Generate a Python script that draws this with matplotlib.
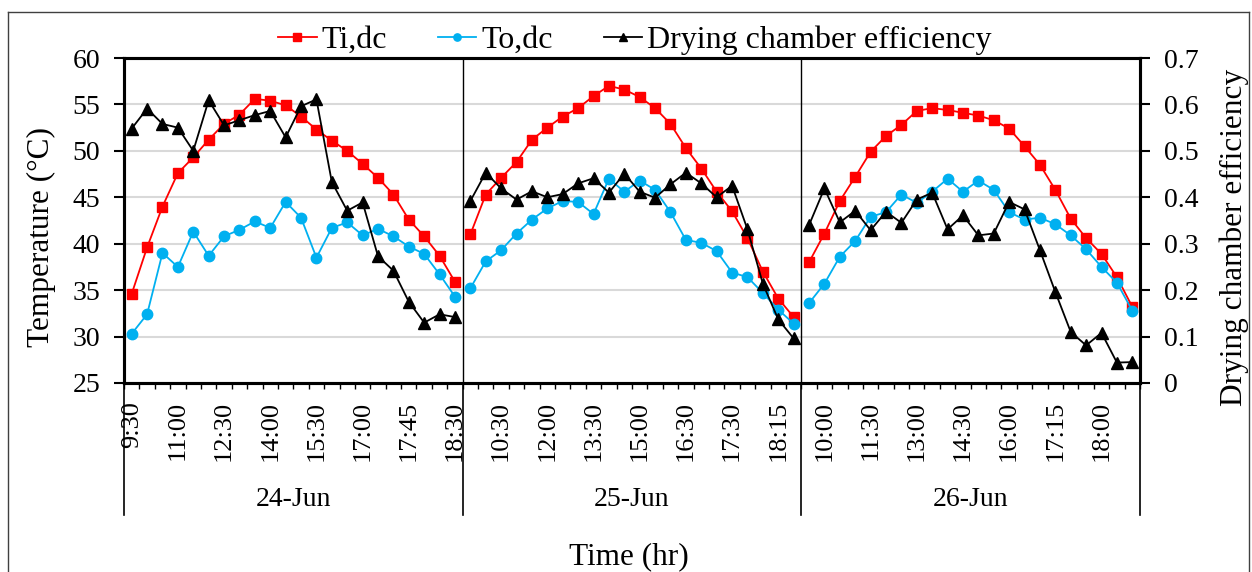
import matplotlib
matplotlib.use("Agg")
import matplotlib.pyplot as plt
import matplotlib.transforms as mtransforms
from matplotlib.lines import Line2D

plt.rcParams['font.family'] = ['Liberation Serif', 'DejaVu Serif']

# readings every 30 min, then every 15 min late afternoon
times = ['9:30', '10:00', '10:30', '11:00', '11:30', '12:00', '12:30', '13:00',
         '13:30', '14:00', '14:30', '15:00', '15:30', '16:00', '16:30', '17:00',
         '17:15', '17:30', '17:45', '18:00', '18:15', '18:30']
days = ['24-Jun', '25-Jun', '26-Jun']

ti_24 = [34.6, 39.6, 44.0, 47.6, 49.3, 51.2, 52.9, 53.9, 55.6, 55.4, 54.9,
         53.7, 52.3, 51.1, 50.0, 48.6, 47.1, 45.3, 42.6, 40.8, 38.7, 35.9]
to_24 = [30.3, 32.4, 39.0, 37.5, 41.3, 38.7, 40.8, 41.5, 42.4, 41.7, 44.5,
         42.8, 38.5, 41.7, 42.3, 40.9, 41.6, 40.8, 39.7, 38.9, 36.7, 34.3]
eff_24 = [0.548, 0.591, 0.558, 0.550, 0.500, 0.609, 0.555, 0.566, 0.577, 0.586, 0.529,
          0.596, 0.611, 0.433, 0.371, 0.389, 0.273, 0.242, 0.175, 0.130, 0.148, 0.142]

ti_25 = [41.0, 45.3, 47.1, 48.8, 51.2, 52.5, 53.7, 54.6, 55.9, 57.0, 56.6,
         55.8, 54.6, 52.9, 50.3, 48.1, 45.6, 43.5, 40.6, 37.0, 34.1, 32.1]
to_25 = [35.2, 38.1, 39.3, 41.1, 42.6, 43.8, 44.6, 44.5, 43.2, 47.0, 45.6,
         46.8, 45.8, 43.4, 40.4, 40.1, 39.2, 36.9, 36.4, 34.7, 32.9, 31.4]
eff_25 = [0.392, 0.453, 0.419, 0.395, 0.413, 0.400, 0.407, 0.430, 0.441, 0.410, 0.451,
          0.412, 0.399, 0.428, 0.453, 0.430, 0.400, 0.425, 0.331, 0.214, 0.137, 0.096]

ti_26 = [38.0, 41.1, 44.6, 47.2, 49.9, 51.6, 52.8, 54.3, 54.6, 54.4, 54.1,
         53.8, 53.3, 52.4, 50.5, 48.5, 45.8, 42.7, 40.6, 38.9, 36.4, 33.2]
to_26 = [33.6, 35.7, 38.6, 40.3, 42.9, 43.4, 45.3, 44.4, 45.6, 47.0, 45.6,
         46.8, 45.8, 43.4, 42.6, 42.8, 42.1, 40.9, 39.4, 37.5, 35.8, 32.8]
eff_26 = [0.340, 0.419, 0.346, 0.371, 0.329, 0.369, 0.345, 0.395, 0.410, 0.331, 0.361,
          0.318, 0.322, 0.390, 0.374, 0.286, 0.196, 0.110, 0.081, 0.108, 0.044, 0.045]

ti = [ti_24, ti_25, ti_26]
to = [to_24, to_25, to_26]
eff = [eff_24, eff_25, eff_26]

n = len(times)
total = n * len(days)

fig = plt.figure(figsize=(12.52, 5.72), dpi=100)
ax = fig.add_axes([124 / 1252, 1 - 383 / 572, (1140 - 124) / 1252, 325 / 572])
ax2 = ax.twinx()
ax2.set_zorder(ax.get_zorder() + 1)
ax.patch.set_visible(False)

red = '#FF0000'
blue = '#00B0F0'

for d in range(len(days)):
    x = list(range(d * n, (d + 1) * n))
    ax.plot(x, ti[d], color=red, lw=1.3, marker='s', ms=7.5,
            label='Ti,dc' if d == 0 else None, zorder=3)
    ax.plot(x, to[d], color=blue, lw=1.3, marker='o', ms=7.5,
            label='To,dc' if d == 0 else None, zorder=4)
    ax2.plot(x, eff[d], color='black', lw=1.3, marker='^', ms=8,
             label='Drying chamber efficiency' if d == 0 else None, zorder=5)

ax.set_xlim(-0.5, total - 0.5)
ax.set_ylim(25, 60)
ax.set_yticks(range(25, 61, 5))
ax2.set_ylim(0, 0.7)
ax2.set_yticks([0, 0.1, 0.2, 0.3, 0.4, 0.5, 0.6, 0.7])
ax2.set_yticklabels(['0', '0.1', '0.2', '0.3', '0.4', '0.5', '0.6', '0.7'])

# category labels every third reading
pos = list(range(0, total, 3))
labels = [times[p % n] for p in pos]
ax.set_xticks(pos)
ax.set_xticklabels(labels, rotation=90, fontsize=19, va='top', ha='center')
ax.set_xticks([b - 0.5 for b in range(total + 1)], minor=True)
ax.tick_params(axis='x', which='major', length=0, pad=13)
ax.tick_params(axis='x', which='minor', length=4, width=1, direction='out')
ax.tick_params(axis='y', labelsize=20, length=7, width=1.5, direction='out', pad=10)
ax2.tick_params(axis='y', labelsize=20, length=7, width=1.5, direction='out', pad=10)
ax2.tick_params(axis='x', which='both', length=0)

ax.grid(axis='y', color='#d9d9d9', lw=1.5, zorder=0)
ax.set_axisbelow(True)

for a in (ax, ax2):
    for s in a.spines.values():
        s.set_linewidth(2.2)
        s.set_color('black')

# day separators, inside the plot and down through the labels
trans = mtransforms.blended_transform_factory(ax.transData, ax.transAxes)
for k in range(1, len(days)):
    ax.axvline(k * n - 0.5, color='black', lw=1, zorder=2)
for k in range(len(days) + 1):
    ax.plot([k * n - 0.5, k * n - 0.5], [0, -0.406], transform=trans,
            color='black', lw=1.2, clip_on=False)
for d, day in enumerate(days):
    ax.text(d * n + (n - 1) / 2, -0.357, day, transform=trans, fontsize=20,
            ha='center', va='center')

fig.text(0.0335, 0.585, 'Temperature (°C)', rotation=90, fontsize=22.5,
         ha='center', va='center')
fig.text(0.9856, 0.585, 'Drying chamber efficiency', rotation=90, fontsize=22.5,
         ha='center', va='center')
fig.text(0.502, 0.026, 'Time (hr)', fontsize=22.5, ha='center', va='center')

h1, l1 = ax.get_legend_handles_labels()
h2, l2 = ax2.get_legend_handles_labels()
fig.legend(h1 + h2, l1 + l2, loc='center', bbox_to_anchor=(0.507, 0.93), ncol=3,
           frameon=False, fontsize=23, handlelength=1.2, handletextpad=0.15,
           columnspacing=1.6, markerscale=0.7)

# chart border
for xs, ys in [([0.0064, 0.9976], [0.979, 0.979]), ([0.0064, 0.0064], [0, 0.979]),
               ([0.9976, 0.9976], [0, 0.979])]:
    fig.add_artist(Line2D(xs, ys, transform=fig.transFigure, color='#404040', lw=1))

fig.savefig('out.png', dpi=100)
